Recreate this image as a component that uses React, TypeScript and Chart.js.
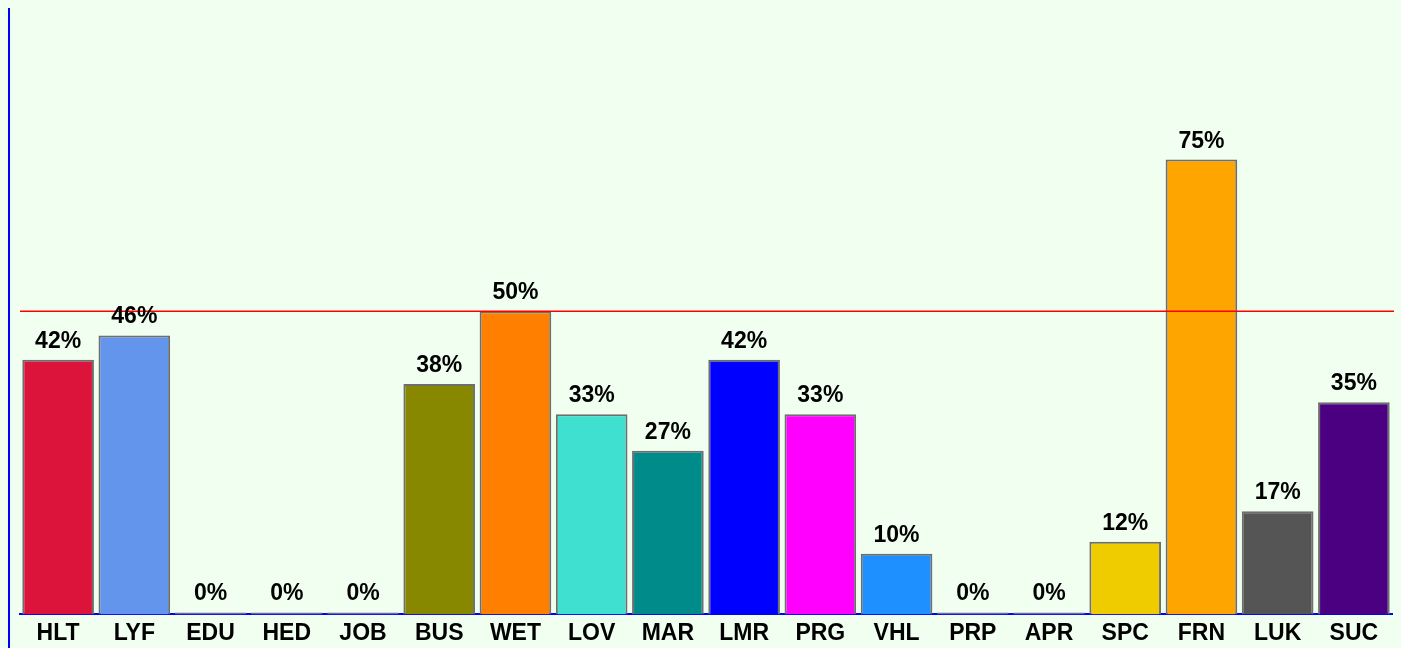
import React, { useEffect, useRef } from "react";
import { Chart, registerables } from "chart.js";

Chart.register(...registerables);

const categories = ["HLT", "LYF", "EDU", "HED", "JOB", "BUS", "WET", "LOV", "MAR", "LMR", "PRG", "VHL", "PRP", "APR", "SPC", "FRN", "LUK", "SUC"];
const values = [42, 46, 0, 0, 0, 38, 50, 33, 27, 42, 33, 10, 0, 0, 12, 75, 17, 35];
const barColors = [
  "#DC143C", "#6495ED", "#A0A0A0", "#A0A0A0", "#A0A0A0", "#888800", "#FF8000", "#40E0D0", "#008B8B",
  "#0000FF", "#FF00FF", "#1E90FF", "#A0A0A0", "#A0A0A0", "#EECC00", "#FFA500", "#555555", "#4B0082",
];
const thresholdValue = 50;
const yMax = 100;

const FONT = "'Liberation Sans', Arial, sans-serif";

export default function App() {
  const ref = useRef<HTMLCanvasElement | null>(null);

  useEffect(() => {
    if (!ref.current) return;
    const decor = {
      id: "decor",
      afterDatasetsDraw(chart: any) {
        const { ctx, chartArea, scales } = chart;
        ctx.save();
        const y = scales.y.getPixelForValue(thresholdValue);
        ctx.strokeStyle = "#FF0000";
        ctx.lineWidth = 1.5;
        ctx.beginPath();
        ctx.moveTo(chartArea.left, y);
        ctx.lineTo(chartArea.right + 2, y);
        ctx.stroke();
        ctx.strokeStyle = "#0000FF";
        ctx.lineWidth = 2;
        ctx.beginPath();
        ctx.moveTo(9, 8);
        ctx.lineTo(9, chart.height);
        ctx.stroke();
        const meta = chart.getDatasetMeta(0);
        ctx.fillStyle = "#000000";
        ctx.font = `bold 23px ${FONT}`;
        ctx.textAlign = "center";
        ctx.textBaseline = "alphabetic";
        meta.data.forEach((bar: any, i: number) => {
          ctx.fillText(`${values[i]}%`, bar.x, bar.y - 12);
        });
        ctx.restore();
      },
    };
    const chart = new Chart(ref.current, {
      type: "bar",
      data: {
        labels: categories,
        datasets: [
          {
            data: values,
            backgroundColor: barColors,
            borderColor: "#6E6E6E",
            borderWidth: 2,
            minBarLength: 2,
            barPercentage: 0.94,
            categoryPercentage: 1,
          },
        ],
      },
      options: {
        animation: false,
        responsive: false,
        maintainAspectRatio: false,
        layout: { padding: { left: 20, right: 9, top: 8, bottom: -4 } },
        plugins: { legend: { display: false }, tooltip: { enabled: false } },
        scales: {
          x: {
            grid: { display: false, drawTicks: false, tickLength: 0 },
            border: { display: true, color: "#0000FF", width: 2 },
            ticks: { color: "#000000", font: { family: FONT, size: 23, weight: "bold" }, padding: 5, maxRotation: 0, autoSkip: false },
          },
          y: { display: false, min: 0, max: yMax },
        },
      },
      plugins: [decor],
    });
    return () => chart.destroy();
  }, []);

  return (
    <div style={{ position: "fixed", left: 0, top: 0, width: 1401, height: 648, background: "#F0FFF0" }}>
      <canvas ref={ref} width={1401} height={648} style={{ display: "block", width: 1401, height: 648 }} />
    </div>
  );
}
